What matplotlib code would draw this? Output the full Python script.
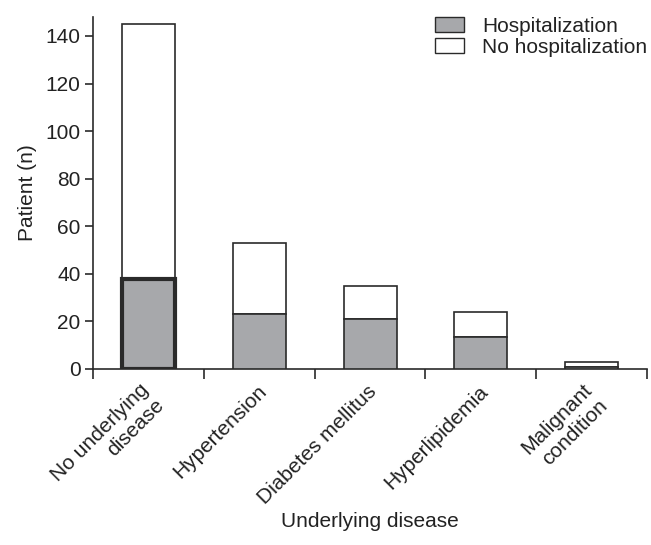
import matplotlib
matplotlib.use("Agg")
import matplotlib.pyplot as plt
from matplotlib.patches import Patch
from matplotlib.transforms import ScaledTranslation
import numpy as np

plt.rcParams['font.family'] = ['Liberation Sans', 'DejaVu Sans']

categories = ["No underlying\ndisease", "Hypertension", "Diabetes mellitus", "Hyperlipidemia", "Malignant\ncondition"]
hosp = [38, 23, 21, 13.5, 1]
total = [145, 53, 35, 24, 3]
no_hosp = [t - h for t, h in zip(total, hosp)]

gray = "#a7a8ab"
edge = "#2a2a2a"
tc = "#222222"
fs = 15

fig = plt.figure(figsize=(6.51, 5.45), dpi=100)
ax = fig.add_axes([0.143, 0.323, 0.851, 0.646])

x = np.arange(len(categories))
w = 0.48
lws = [3.0] + [1.2] * (len(categories) - 1)
ax.bar(x, no_hosp, w, bottom=hosp, color="white", edgecolor=edge, linewidth=1.2, zorder=2)
ax.bar(x, hosp, w, color=gray, edgecolor=edge, linewidth=lws, zorder=3)

ax.set_xlim(-0.5, len(categories) - 0.5)
ax.set_ylim(0, 148)
ax.set_yticks(np.arange(0, 141, 20))
ax.spines['top'].set_visible(False)
ax.spines['right'].set_visible(False)
for s in ['left', 'bottom']:
    ax.spines[s].set_color(edge)
    ax.spines[s].set_linewidth(1.2)

ax.set_xticks(np.arange(-0.5, len(categories), 1.0))
ax.set_xticklabels([])
ax.tick_params(axis='x', length=7, width=1.2, color=edge, direction='out')
ax.tick_params(axis='y', length=6, width=1.2, color=edge, labelsize=fs, labelcolor=tc, pad=3)
ax.set_xticks(x, minor=True)
ax.set_xticklabels(categories, minor=True, rotation=45, ha='right', va='center',
                   rotation_mode='anchor', fontsize=fs, color=tc, multialignment='right')
ax.tick_params(axis='x', which='minor', length=0, pad=14)
for lab in ax.get_xticklabels(minor=True):
    if "\n" in lab.get_text():
        off = ScaledTranslation(0.05, -0.065, fig.dpi_scale_trans)
    else:
        off = ScaledTranslation(0.04, 0.0, fig.dpi_scale_trans)
    lab.set_transform(lab.get_transform() + off)

ax.set_ylabel("Patient (n)", fontsize=fs, color=tc, labelpad=6)
fig.text(0.568, 0.043, "Underlying disease", ha='center', va='center', fontsize=fs, color=tc)

handles = [Patch(facecolor=gray, edgecolor=edge, linewidth=1.0, label="Hospitalization"),
           Patch(facecolor="white", edgecolor=edge, linewidth=1.0, label="No hospitalization")]
fig.legend(handles=handles, loc='upper right', bbox_to_anchor=(1.017, 0.996), frameon=False,
           fontsize=fs, handlelength=1.35, handleheight=0.72, labelspacing=0.1, handletextpad=0.9,
           labelcolor=tc, borderaxespad=0.3)

fig.savefig("out.png", dpi=100)
